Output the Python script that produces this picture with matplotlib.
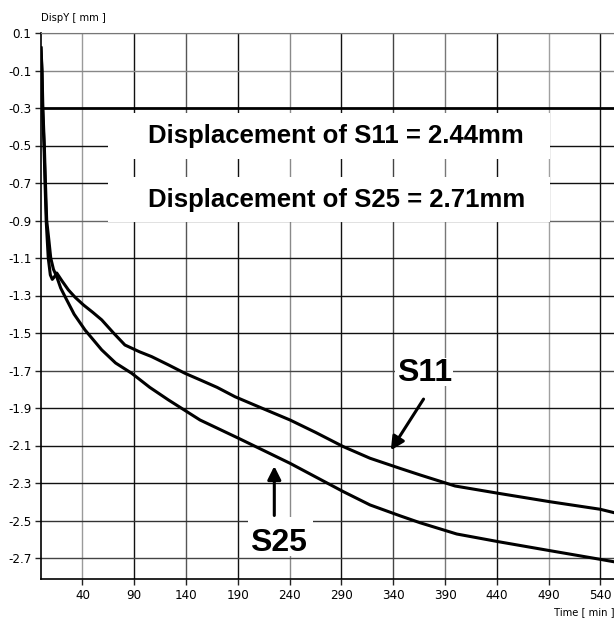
import matplotlib.pyplot as plt
from matplotlib.patches import Rectangle
from matplotlib.font_manager import FontProperties

# time [min] / displacement [mm]
s11_time = [0, 0.8, 1.5, 2.9, 3.9, 5.0, 6.0, 7.0, 9.0, 10.9, 13.0, 15.2, 20, 26.4, 33, 40.9,
            50, 58.6, 70, 81, 95, 106.8, 123, 139, 154, 170, 187.3, 215, 240.4, 265, 291.8,
            317.6, 346.6, 365.9, 399.7, 441.5, 491.4, 539.7, 553]
s11_disp = [0.02, -0.1, -0.3, -0.5, -0.7, -0.9, -1.0, -1.1, -1.19, -1.214, -1.2, -1.18, -1.22,
            -1.27, -1.31, -1.35, -1.39, -1.43, -1.50, -1.564, -1.60, -1.626, -1.67, -1.715,
            -1.751, -1.79, -1.84, -1.905, -1.964, -2.03, -2.106, -2.168, -2.222, -2.257,
            -2.316, -2.355, -2.40, -2.44, -2.458]

s25_time = [0, 1.0, 1.8, 3.2, 4.3, 5.5, 7.5, 9.4, 12, 15.2, 19, 23.2, 32, 42.5, 58.6, 72,
            87.6, 105, 123, 153.5, 190.5, 240.4, 291.8, 317.6, 346.6, 365.9, 401.3, 441.5,
            491.4, 539.7, 553]
s25_disp = [0.02, -0.1, -0.3, -0.5, -0.7, -0.9, -1.0, -1.1, -1.16, -1.2, -1.26, -1.306, -1.40,
            -1.484, -1.59, -1.66, -1.715, -1.79, -1.857, -1.964, -2.061, -2.195, -2.346,
            -2.417, -2.475, -2.512, -2.572, -2.613, -2.661, -2.707, -2.72]

x_ticks = [40, 90, 140, 190, 240, 290, 340, 390, 440, 490, 540]
y_ticks = [0.1, -0.1, -0.3, -0.5, -0.7, -0.9, -1.1, -1.3, -1.5, -1.7, -1.9, -2.1, -2.3, -2.5, -2.7]

note_lines = ["Displacement of S11 = 2.44mm", "Displacement of S25 = 2.71mm"]

narrow = FontProperties(family="DejaVu Sans", stretch="condensed", size=9.5)
small = FontProperties(family="DejaVu Sans", stretch="condensed", size=8)
bold_font = ["Liberation Sans", "DejaVu Sans"]

fig = plt.figure(figsize=(6.14, 6.18), dpi=100)
ax = fig.add_axes([41 / 614, 1 - 579 / 618, 1 - 41 / 614, (579 - 33) / 618])

ax.set_xlim(0, 553.1)
ax.set_ylim(-2.812, 0.1)

ax.set_xticks(x_ticks)
ax.set_xticklabels([str(v) for v in x_ticks], fontproperties=narrow)
ax.set_yticks(y_ticks)
ax.set_yticklabels([f"{v:.1f}" for v in y_ticks], fontproperties=narrow)
ax.tick_params(direction="out", length=4, width=1, color="#222222", pad=3)

ax.grid(True, lw=1.0)
vcols = ["#9a9a9a", "#111111", "#555555", "#111111", "#8a8a8a", "#111111",
         "#444444", "#777777", "#111111", "#a0a0a0", "#111111"]
for ln, c in zip(ax.xaxis.get_gridlines(), vcols):
    ln.set_color(c)
hcols = ["#777777", "#888888", "#000000", "#111111", "#111111", "#666666", "#111111",
         "#111111", "#111111", "#444444", "#111111", "#111111", "#111111", "#333333", "#444444"]
for ln, c in zip(ax.yaxis.get_gridlines(), hcols):
    ln.set_color(c)
ax.yaxis.get_gridlines()[2].set_linewidth(2.0)
ax.set_axisbelow(True)

ax.spines["right"].set_visible(False)
ax.spines["top"].set_color("#777777")
ax.spines["left"].set_linewidth(1.2)
ax.spines["bottom"].set_linewidth(1.2)

ax.plot(s11_time, s11_disp, color="black", lw=2.2, zorder=3)
ax.plot(s25_time, s25_disp, color="black", lw=2.2, zorder=3)

# white boxes behind the note lines and the curve labels
def white_box(x0, y0, w, h):
    ax.add_patch(Rectangle((x0, y0), w, h, facecolor="white", edgecolor="none", zorder=2))

white_box(64.7, -0.572, 426.6, 0.245)
white_box(64.7, -0.908, 426.6, 0.240)
white_box(341.7, -1.783, 56.0, 0.150)
white_box(199.8, -2.689, 62.8, 0.208)

ax.text(285, -0.45, note_lines[0], ha="center", va="center", fontsize=18.5,
        fontweight="bold", family=bold_font, zorder=5)
ax.text(285, -0.788, note_lines[1], ha="center", va="center", fontsize=18.5,
        fontweight="bold", family=bold_font, zorder=5)

# curve labels with arrows
ax.text(370, -1.715, "S11", ha="center", va="center", fontsize=23, fontweight="bold",
        family=bold_font, zorder=5)
ax.annotate("", xy=(336.2, -2.138), xytext=(370.7, -1.84),
            arrowprops=dict(arrowstyle="-|>", color="black", lw=2.2, mutation_scale=20), zorder=5)
ax.text(229, -2.62, "S25", ha="center", va="center", fontsize=23, fontweight="bold",
        family=bold_font, zorder=5)
ax.annotate("", xy=(225.2, -2.195), xytext=(225.2, -2.488),
            arrowprops=dict(arrowstyle="-|>", color="black", lw=2.2, mutation_scale=20), zorder=5)

fig.text(41 / 614, 1 - 18 / 618, "DispY [ mm ]", ha="left", va="center", fontproperties=small)
fig.text(1.0, 1 - 612 / 618, "Time [ min ]", ha="right", va="center", fontproperties=small)

fig.savefig("out.png", dpi=100)
